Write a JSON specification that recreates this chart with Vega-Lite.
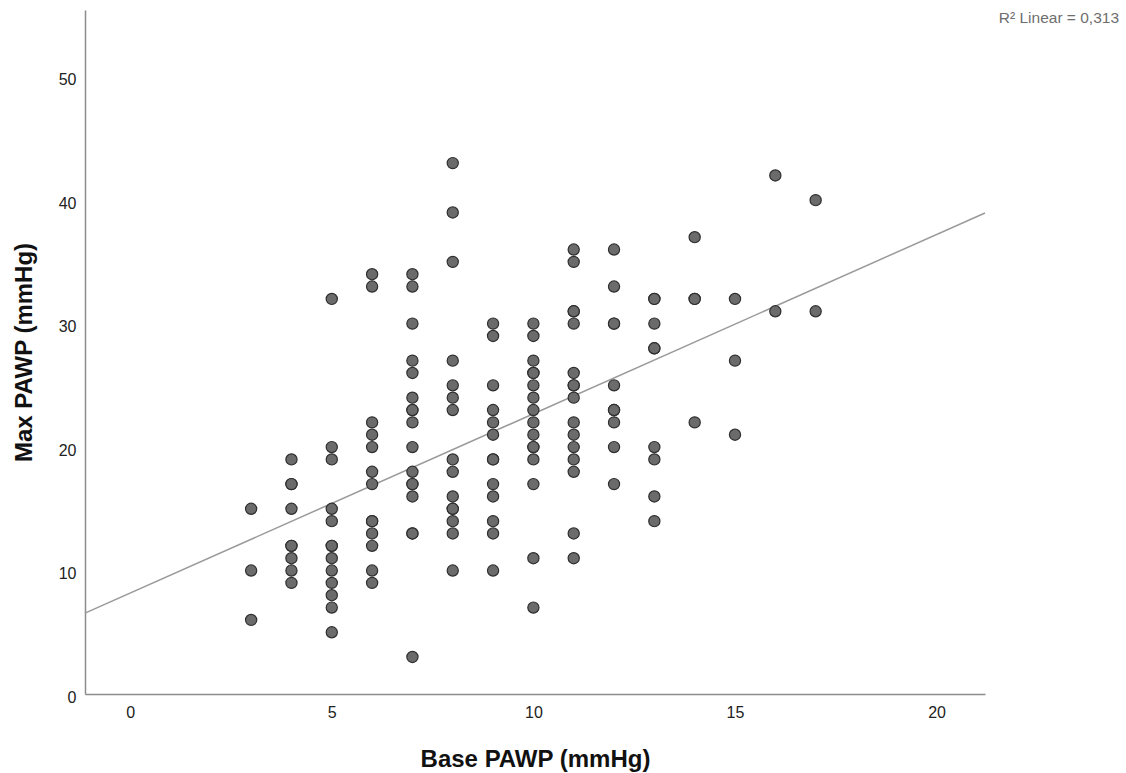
{
  "$schema": "https://vega.github.io/schema/vega-lite/v6.json",
  "width": 900,
  "height": 684,
  "autosize": {"type": "none"},
  "padding": {"left": 85, "top": 10, "right": 141, "bottom": 79},
  "background": "white",
  "title": {
    "text": "R² Linear = 0,313",
    "orient": "top",
    "anchor": "end",
    "frame": "group",
    "offset": 0,
    "baseline": "top",
    "dx": 134,
    "dy": 16,
    "fontSize": 15.5,
    "fontWeight": "normal",
    "color": "#6e6e6e",
    "font": "Liberation Sans"
  },
  "datasets": {
    "points": [
      {"base": 3, "max": 15}, {"base": 3, "max": 10}, {"base": 3, "max": 6},
      {"base": 4, "max": 19}, {"base": 4, "max": 17}, {"base": 4, "max": 17}, {"base": 4, "max": 15}, {"base": 4, "max": 12}, {"base": 4, "max": 12}, {"base": 4, "max": 11}, {"base": 4, "max": 10}, {"base": 4, "max": 9},
      {"base": 5, "max": 32}, {"base": 5, "max": 20}, {"base": 5, "max": 19}, {"base": 5, "max": 15}, {"base": 5, "max": 14}, {"base": 5, "max": 12}, {"base": 5, "max": 12}, {"base": 5, "max": 11}, {"base": 5, "max": 10}, {"base": 5, "max": 9}, {"base": 5, "max": 8}, {"base": 5, "max": 7}, {"base": 5, "max": 5},
      {"base": 6, "max": 34}, {"base": 6, "max": 33}, {"base": 6, "max": 22}, {"base": 6, "max": 21}, {"base": 6, "max": 20}, {"base": 6, "max": 18}, {"base": 6, "max": 17}, {"base": 6, "max": 14}, {"base": 6, "max": 14}, {"base": 6, "max": 13}, {"base": 6, "max": 12}, {"base": 6, "max": 10}, {"base": 6, "max": 9},
      {"base": 7, "max": 34}, {"base": 7, "max": 33}, {"base": 7, "max": 30}, {"base": 7, "max": 27}, {"base": 7, "max": 26}, {"base": 7, "max": 24}, {"base": 7, "max": 23}, {"base": 7, "max": 23}, {"base": 7, "max": 22}, {"base": 7, "max": 20}, {"base": 7, "max": 18}, {"base": 7, "max": 17}, {"base": 7, "max": 17}, {"base": 7, "max": 16}, {"base": 7, "max": 13}, {"base": 7, "max": 13}, {"base": 7, "max": 3},
      {"base": 8, "max": 43}, {"base": 8, "max": 39}, {"base": 8, "max": 35}, {"base": 8, "max": 27}, {"base": 8, "max": 25}, {"base": 8, "max": 24}, {"base": 8, "max": 23}, {"base": 8, "max": 19}, {"base": 8, "max": 18}, {"base": 8, "max": 16}, {"base": 8, "max": 15}, {"base": 8, "max": 15}, {"base": 8, "max": 14}, {"base": 8, "max": 13}, {"base": 8, "max": 10},
      {"base": 9, "max": 30}, {"base": 9, "max": 29}, {"base": 9, "max": 25}, {"base": 9, "max": 23}, {"base": 9, "max": 22}, {"base": 9, "max": 21}, {"base": 9, "max": 19}, {"base": 9, "max": 19}, {"base": 9, "max": 17}, {"base": 9, "max": 16}, {"base": 9, "max": 14}, {"base": 9, "max": 13}, {"base": 9, "max": 10},
      {"base": 10, "max": 30}, {"base": 10, "max": 29}, {"base": 10, "max": 27}, {"base": 10, "max": 26}, {"base": 10, "max": 26}, {"base": 10, "max": 25}, {"base": 10, "max": 24}, {"base": 10, "max": 23}, {"base": 10, "max": 22}, {"base": 10, "max": 21}, {"base": 10, "max": 20}, {"base": 10, "max": 20}, {"base": 10, "max": 19}, {"base": 10, "max": 17}, {"base": 10, "max": 11}, {"base": 10, "max": 7},
      {"base": 11, "max": 36}, {"base": 11, "max": 35}, {"base": 11, "max": 31}, {"base": 11, "max": 31}, {"base": 11, "max": 30}, {"base": 11, "max": 26}, {"base": 11, "max": 25}, {"base": 11, "max": 25}, {"base": 11, "max": 24}, {"base": 11, "max": 22}, {"base": 11, "max": 21}, {"base": 11, "max": 20}, {"base": 11, "max": 19}, {"base": 11, "max": 18}, {"base": 11, "max": 13}, {"base": 11, "max": 11},
      {"base": 12, "max": 36}, {"base": 12, "max": 33}, {"base": 12, "max": 30}, {"base": 12, "max": 30}, {"base": 12, "max": 25}, {"base": 12, "max": 23}, {"base": 12, "max": 23}, {"base": 12, "max": 22}, {"base": 12, "max": 20}, {"base": 12, "max": 17},
      {"base": 13, "max": 32}, {"base": 13, "max": 32}, {"base": 13, "max": 30}, {"base": 13, "max": 28}, {"base": 13, "max": 28}, {"base": 13, "max": 20}, {"base": 13, "max": 19}, {"base": 13, "max": 16}, {"base": 13, "max": 14},
      {"base": 14, "max": 37}, {"base": 14, "max": 32}, {"base": 14, "max": 32}, {"base": 14, "max": 22},
      {"base": 15, "max": 32}, {"base": 15, "max": 27}, {"base": 15, "max": 21},
      {"base": 16, "max": 42}, {"base": 16, "max": 31},
      {"base": 17, "max": 40}, {"base": 17, "max": 31}
    ],
    "fit": [
      {"base": -1.12, "max": 6.55},
      {"base": 21.2, "max": 38.96}
    ]
  },
  "config": {
    "font": "Liberation Sans",
    "view": {"stroke": null},
    "axis": {
      "grid": false,
      "ticks": false,
      "domainColor": "#8c8c8c",
      "domainWidth": 1.5,
      "labelColor": "#222222",
      "labelFontSize": 16,
      "labelFont": "Liberation Sans",
      "titleFont": "Liberation Sans",
      "titleColor": "#111111",
      "titleFontSize": 24,
      "titleFontWeight": "bold"
    }
  },
  "layer": [
    {
      "data": {"name": "fit"},
      "mark": {"type": "line", "color": "#9a9a9a", "strokeWidth": 1.5},
      "encoding": {
        "x": {"field": "base", "type": "quantitative"},
        "y": {"field": "max", "type": "quantitative"}
      }
    },
    {
      "data": {"name": "points"},
      "mark": {"type": "point", "shape": "circle", "filled": true, "size": 125, "fill": "#6b6b6b", "stroke": "#2e2e2e", "strokeWidth": 1.2, "opacity": 1, "fillOpacity": 1},
      "encoding": {
        "x": {
          "field": "base",
          "type": "quantitative",
          "scale": {"domain": [-1.12, 21.2], "nice": false, "zero": false},
          "axis": {"values": [0, 5, 10, 15, 20], "title": "Base PAWP (mmHg)", "labelPadding": 10, "titlePadding": 27, "labelFlush": false}
        },
        "y": {
          "field": "max",
          "type": "quantitative",
          "scale": {"domain": [0, 55.4], "nice": false, "zero": false},
          "axis": {"values": [0, 10, 20, 30, 40, 50], "title": "Max PAWP (mmHg)", "labelPadding": 9, "labelOffset": 3, "titlePadding": 22, "labelFlush": false}
        }
      }
    }
  ]
}
